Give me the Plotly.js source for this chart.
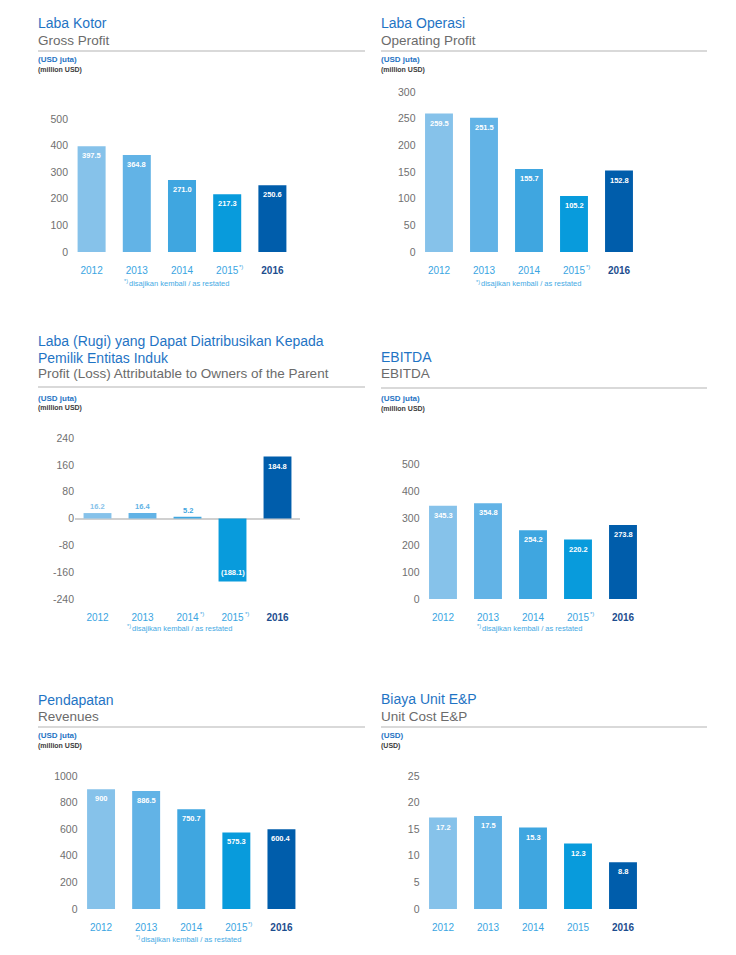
<!DOCTYPE html>
<html>
<head>
<meta charset="utf-8">
<script src="https://cdn.plot.ly/plotly-3.0.1.min.js"></script>
<style>html,body{margin:0;padding:0;background:#fff;}#chart{width:736px;height:955px;}</style>
</head>
<body>
<div id="chart"></div>
<script>
// ---------------- DATA ----------------
const years = ['2012', '2013', '2014', '2015', '2016'];

const grossProfit = [397.5, 364.8, 271.0, 217.3, 250.6];
const grossProfitMarks = ['', '', '', '*)', ''];
const grossProfitTicks = [0, 100, 200, 300, 400, 500];

const operatingProfit = [259.5, 251.5, 155.7, 105.2, 152.8];
const operatingProfitMarks = ['', '', '', '*)', ''];
const operatingProfitTicks = [0, 50, 100, 150, 200, 250, 300];

const profitOwners = [16.2, 16.4, 5.2, -188.1, 184.8];
const profitOwnersMarks = ['', '', '*)', '*)', ''];
const profitOwnersTicks = [-240, -160, -80, 0, 80, 160, 240];

const ebitda = [345.3, 354.8, 254.2, 220.2, 273.8];
const ebitdaMarks = ['', '', '', '*)', ''];
const ebitdaTicks = [0, 100, 200, 300, 400, 500];

const revenues = [900, 886.5, 750.7, 575.3, 600.4];
const revenuesLabels = ['900', '886.5', '750.7', '575.3', '600.4'];
const revenuesMarks = ['', '', '', '*)', ''];
const revenuesTicks = [0, 200, 400, 600, 800, 1000];

const unitCost = [17.2, 17.5, 15.3, 12.3, 8.8];
const unitCostMarks = ['', '', '', '', ''];
const unitCostTicks = [0, 5, 10, 15, 20, 25];

// ---------------- STYLE ----------------
const barColors = ['#86c2ea', '#62b3e6', '#3fa6e0', '#089bdc', '#005dab'];
const FONT = 'Liberation Sans, Arial, sans-serif';
const titleBlue = '#1f74c4';
const subGray = '#6b6b6b';
const tickGray = '#707070';
const yearBlue = '#3aa5e2';
const yearDark = '#1d4d8e';
const footBlue = '#45aae4';

const W = 736, H = 955;
const X = px => px / W;
const Y = py => 1 - py / H;

function fmt(v) {
  return v < 0 ? '(' + Math.abs(v).toFixed(1) + ')' : v.toFixed(1);
}

const panels = [
  { values: grossProfit, labels: grossProfit.map(fmt), marks: grossProfitMarks, ticks: grossProfitTicks,
    range: [0, 500], yBot: 252, yTop: 119, xL: 69, xR: 295, yearY: 270,
    x0: 38, lineX1: 365, titles: ['Laba Kotor'], titleY: [23.5], sub: 'Gross Profit', subY: 40,
    lineY: 51, unit1: '(USD juta)', unit2: '(million USD)', unitY: [60, 70], foot: [124, 283] },
  { values: operatingProfit, labels: operatingProfit.map(fmt), marks: operatingProfitMarks, ticks: operatingProfitTicks,
    range: [0, 300], yBot: 252, yTop: 92, xL: 416.5, xR: 641.5, yearY: 270,
    x0: 381, lineX1: 707, titles: ['Laba Operasi'], titleY: [23.5], sub: 'Operating Profit', subY: 40,
    lineY: 51, unit1: '(USD juta)', unit2: '(million USD)', unitY: [60, 70], foot: [476, 284] },
  { values: profitOwners, labels: profitOwners.map(fmt), marks: profitOwnersMarks, ticks: profitOwnersTicks,
    range: [-240, 240], yBot: 599, yTop: 438, xL: 75, xR: 300, yearY: 617,
    x0: 38, lineX1: 365, titles: ['Laba (Rugi) yang Dapat Diatribusikan Kepada', 'Pemilik Entitas Induk'], titleY: [341, 357.5],
    sub: 'Profit (Loss) Attributable to Owners of the Parent', subY: 373.5,
    lineY: 387, unit1: '(USD juta)', unit2: '(million USD)', unitY: [398, 408], foot: [127, 628], zero: true },
  { values: ebitda, labels: ebitda.map(fmt), marks: ebitdaMarks, ticks: ebitdaTicks,
    range: [0, 500], yBot: 599, yTop: 464, xL: 420.5, xR: 645.5, yearY: 617,
    x0: 381, lineX1: 707, titles: ['EBITDA'], titleY: [357], sub: 'EBITDA', subY: 373.5,
    lineY: 388, unit1: '(USD juta)', unit2: '(million USD)', unitY: [398, 409], foot: [477, 628] },
  { values: revenues, labels: revenuesLabels, marks: revenuesMarks, ticks: revenuesTicks,
    range: [0, 1000], yBot: 909, yTop: 776, xL: 78.5, xR: 304, yearY: 927,
    x0: 38, lineX1: 365, titles: ['Pendapatan'], titleY: [700], sub: 'Revenues', subY: 716,
    lineY: 727, unit1: '(USD juta)', unit2: '(million USD)', unitY: [735, 746], foot: [136, 939] },
  { values: unitCost, labels: unitCost.map(fmt), marks: unitCostMarks, ticks: unitCostTicks,
    range: [0, 25], yBot: 909, yTop: 776, xL: 420.5, xR: 645.5, yearY: 927,
    x0: 381, lineX1: 707, titles: ['Biaya Unit E&P'], titleY: [699], sub: 'Unit Cost E&P', subY: 716,
    lineY: 727, unit1: '(USD)', unit2: '(USD)', unitY: [735, 746], foot: null }
];

const data = [];
const layout = {
  width: W, height: H,
  margin: { l: 0, r: 0, t: 0, b: 0 },
  paper_bgcolor: '#ffffff', plot_bgcolor: '#ffffff',
  showlegend: false,
  bargap: 0.38,
  font: { family: FONT },
  annotations: [], shapes: []
};

panels.forEach((p, i) => {
  const n = i + 1;
  const xa = 'xaxis' + (n === 1 ? '' : n), ya = 'yaxis' + (n === 1 ? '' : n);
  const xr = 'x' + (n === 1 ? '' : n), yr = 'y' + (n === 1 ? '' : n);

  data.push({
    type: 'bar', x: years, y: p.values, xaxis: xr, yaxis: yr,
    marker: { color: barColors, line: { width: 0 } },
    cliponaxis: false,
    hoverinfo: 'skip'
  });

  // value labels, positioned through the axes' own scales (category index on x)
  const span = p.range[1] - p.range[0];
  p.values.forEach((v, k) => {
    const small = Math.abs(v) / span < 0.06;
    let ann = { xref: xr, yref: yr, x: k, y: v, showarrow: false,
      xanchor: 'center',
      text: '<b>' + p.labels[k] + '</b>',
      font: { family: FONT, size: 7.5, color: '#ffffff' } };
    if (small) { ann.yanchor = 'bottom'; ann.yshift = 0; ann.font.color = barColors[k]; }
    else if (v < 0) { ann.yanchor = 'bottom'; ann.yshift = 3; }
    else { ann.yanchor = 'top'; ann.yshift = -3; }
    layout.annotations.push(ann);

    // restated marker "*)" as a small raised note next to the year label
    if (p.marks[k]) {
      layout.annotations.push({ xref: xr, yref: 'paper', x: k, y: Y(p.yearY - 3),
        xanchor: 'left', yanchor: 'middle', xshift: 10, showarrow: false,
        text: p.marks[k], font: { family: FONT, size: 6, color: yearBlue } });
    }
  });

  const tickText = years.map((yv, k) => {
    if (k === years.length - 1) return '<span style="color:' + yearDark + '"><b>' + yv + '</b></span>';
    return yv;
  });

  layout[xa] = {
    domain: [X(p.xL), X(p.xR)], anchor: yr, type: 'category',
    categoryorder: 'array', categoryarray: years,
    range: [-0.5, 4.5], fixedrange: true,
    showgrid: false, zeroline: false, showline: false, ticks: '',
    tickvals: years, ticktext: tickText,
    tickfont: { family: FONT, size: 10, color: yearBlue },
    ticklabelstandoff: 11
  };
  layout[ya] = {
    domain: [Y(p.yBot), Y(p.yTop)], anchor: xr,
    range: p.range, fixedrange: true,
    showgrid: false, showline: false, ticks: '',
    zeroline: !!p.zero, zerolinecolor: '#d0d0d0', zerolinewidth: 2,
    tickvals: p.ticks, ticktext: p.ticks.map(String),
    tickfont: { family: FONT, size: 10.5, color: tickGray }
  };

  const tx = X(p.x0 - 2);
  p.titles.forEach((t, k) => {
    layout.annotations.push({ xref: 'paper', yref: 'paper', x: tx, y: Y(p.titleY[k]),
      xanchor: 'left', yanchor: 'middle', showarrow: false, text: t,
      font: { family: FONT, size: 14, color: titleBlue } });
  });
  layout.annotations.push({ xref: 'paper', yref: 'paper', x: tx, y: Y(p.subY),
    xanchor: 'left', yanchor: 'middle', showarrow: false, text: p.sub,
    font: { family: FONT, size: 13.5, color: subGray } });
  layout.annotations.push({ xref: 'paper', yref: 'paper', x: tx, y: Y(p.unitY[0]),
    xanchor: 'left', yanchor: 'middle', showarrow: false, text: '<b>' + p.unit1 + '</b>',
    font: { family: FONT, size: 8, color: titleBlue } });
  layout.annotations.push({ xref: 'paper', yref: 'paper', x: tx, y: Y(p.unitY[1]),
    xanchor: 'left', yanchor: 'middle', showarrow: false, text: '<b>' + p.unit2 + '</b>',
    font: { family: FONT, size: 7, color: '#3c3c3c' } });
  if (p.foot) {
    layout.annotations.push({ xref: 'paper', yref: 'paper', x: X(p.foot[0] - 2), y: Y(p.foot[1] - 2),
      xanchor: 'left', yanchor: 'middle', showarrow: false,
      text: '*)', font: { family: FONT, size: 5.5, color: footBlue } });
    layout.annotations.push({ xref: 'paper', yref: 'paper', x: X(p.foot[0] + 3), y: Y(p.foot[1]),
      xanchor: 'left', yanchor: 'middle', showarrow: false,
      text: 'disajikan kembali / as restated',
      font: { family: FONT, size: 7.5, color: footBlue } });
  }
  layout.shapes.push({ type: 'line', xref: 'paper', yref: 'paper',
    x0: X(p.x0), x1: X(p.lineX1), y0: Y(p.lineY), y1: Y(p.lineY),
    line: { color: '#cccccc', width: 1.5 } });
});

Plotly.newPlot('chart', data, layout, { staticPlot: true, displayModeBar: false });
</script>
</body>
</html>
